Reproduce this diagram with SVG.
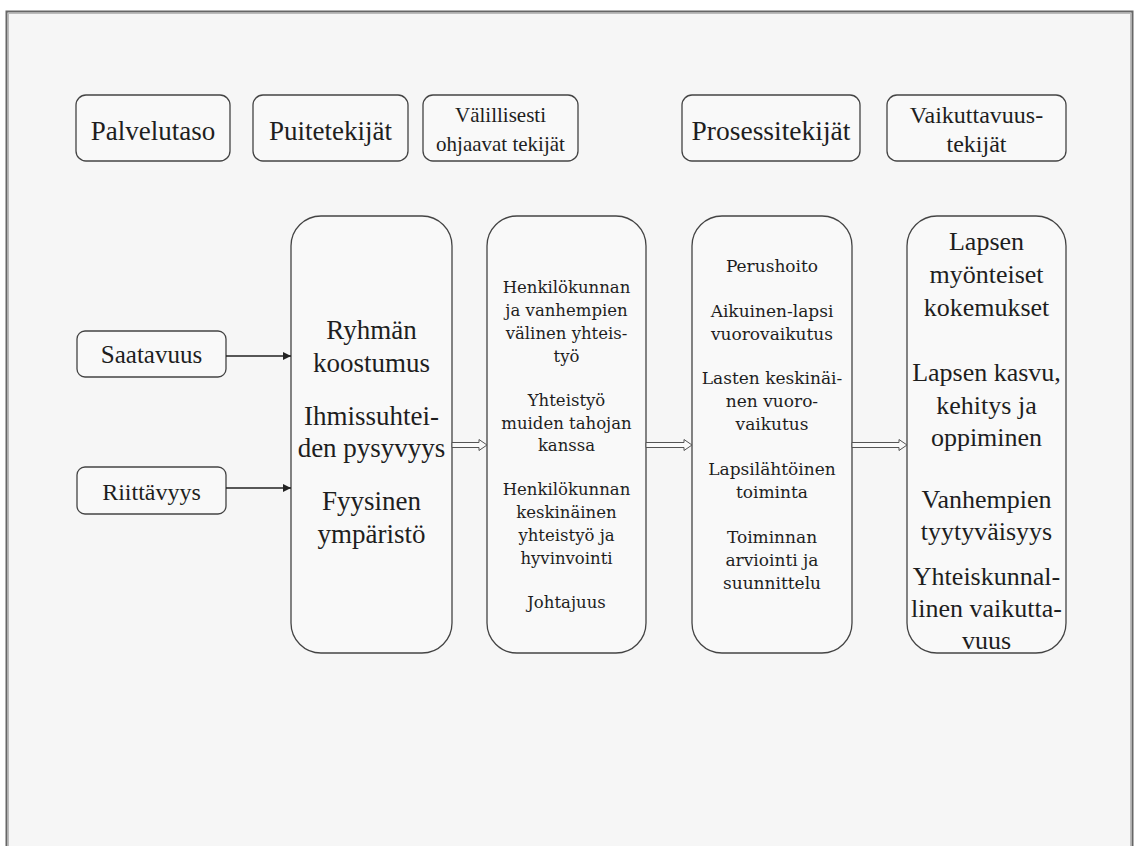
<svg xmlns="http://www.w3.org/2000/svg" width="1138" height="846" viewBox="0 0 1138 846">
<defs>
<style>
.box{fill:#f9f9f9;stroke:#444;stroke-width:1.3}
.conn{stroke:#222;stroke-width:1.3;fill:none}
.hollow{fill:#fafafa;stroke:#555;stroke-width:1}
.lbl{font-family:'Liberation Serif','Times New Roman',serif;fill:#1e1e1e;text-anchor:middle}
.sm{font-family:'DejaVu Serif',serif;fill:#1e1e1e;text-anchor:middle}
</style>
<marker id="ah" viewBox="0 0 10 10" refX="10" refY="5" markerWidth="8" markerHeight="8" markerUnits="userSpaceOnUse" orient="auto">
<path d="M0,0 L10,5 L0,10 z" fill="#222"/>
</marker>
</defs>
<rect x="0" y="0" width="1138" height="846" fill="#ffffff"/>
<rect x="6.5" y="11.5" width="1126" height="850" fill="#f6f6f6" stroke="#666" stroke-width="2"/>
<rect x="8.5" y="13.5" width="1122" height="850" fill="none" stroke="#bbb" stroke-width="1"/>

<g id="hdr-palvelutaso">
<rect class="box" x="76" y="95" width="154" height="66" rx="10"/>
<text class="lbl" x="153" y="140" font-size="27">Palvelutaso</text>
</g>
<g id="hdr-puitetekijat">
<rect class="box" x="253" y="95" width="155" height="66" rx="10"/>
<text class="lbl" x="330.5" y="140" font-size="27">Puitetekijät</text>
</g>
<g id="hdr-valillisesti">
<rect class="box" x="423" y="95" width="155" height="66" rx="10"/>
<text class="lbl" x="500.5" y="122" font-size="21">Välillisesti</text>
<text class="lbl" x="500.5" y="151" font-size="21">ohjaavat tekijät</text>
</g>
<g id="hdr-prosessitekijat">
<rect class="box" x="682" y="95" width="178" height="66" rx="10"/>
<text class="lbl" x="771" y="140" font-size="27.5">Prosessitekijät</text>
</g>
<g id="hdr-vaikuttavuustekijat">
<rect class="box" x="887" y="95" width="179" height="66" rx="10"/>
<text class="lbl" x="976.5" y="123" font-size="24">Vaikuttavuus-</text>
<text class="lbl" x="976.5" y="152" font-size="24">tekijät</text>
</g>

<g id="saatavuus">
<rect class="box" x="77" y="331" width="149" height="46" rx="8"/>
<text class="lbl" x="151.5" y="363" font-size="25">Saatavuus</text>
</g>
<g id="riittavyys">
<rect class="box" x="77" y="467" width="149" height="47" rx="8"/>
<text class="lbl" x="151.5" y="500" font-size="24">Riittävyys</text>
</g>

<g id="col-puitetekijat">
<rect class="box" x="291" y="216" width="161" height="437" rx="30"/>
<text class="lbl" x="371.5" y="339" font-size="27">Ryhmän</text>
<text class="lbl" x="371.5" y="372" font-size="27">koostumus</text>
<text class="lbl" x="371.5" y="425" font-size="27">Ihmissuhtei-</text>
<text class="lbl" x="371.5" y="457" font-size="27">den pysyvyys</text>
<text class="lbl" x="371.5" y="510" font-size="27">Fyysinen</text>
<text class="lbl" x="371.5" y="543" font-size="27">ympäristö</text>
</g>

<g id="col-valillisesti">
<rect class="box" x="487" y="216" width="159" height="437" rx="30"/>
<text class="sm" x="566.5" y="293" font-size="16.5">Henkilökunnan</text>
<text class="sm" x="566.5" y="316" font-size="16.5">ja vanhempien</text>
<text class="sm" x="566.5" y="339" font-size="16.5">välinen yhteis-</text>
<text class="sm" x="566.5" y="362" font-size="16.5">työ</text>
<text class="sm" x="566.5" y="406" font-size="16.5">Yhteistyö</text>
<text class="sm" x="566.5" y="429" font-size="16.5">muiden tahojan</text>
<text class="sm" x="566.5" y="451" font-size="16.5">kanssa</text>
<text class="sm" x="566.5" y="495" font-size="16.5">Henkilökunnan</text>
<text class="sm" x="566.5" y="518" font-size="16.5">keskinäinen</text>
<text class="sm" x="566.5" y="541" font-size="16.5">yhteistyö ja</text>
<text class="sm" x="566.5" y="564" font-size="16.5">hyvinvointi</text>
<text class="sm" x="566.5" y="608" font-size="16.5">Johtajuus</text>
</g>

<g id="col-prosessi">
<rect class="box" x="692" y="216" width="160" height="437" rx="30"/>
<text class="sm" x="772" y="272" font-size="17">Perushoito</text>
<text class="sm" x="772" y="317" font-size="17">Aikuinen-lapsi</text>
<text class="sm" x="772" y="340" font-size="17">vuorovaikutus</text>
<text class="sm" x="772" y="384" font-size="17">Lasten keskinäi-</text>
<text class="sm" x="772" y="407" font-size="17">nen vuoro-</text>
<text class="sm" x="772" y="430" font-size="17">vaikutus</text>
<text class="sm" x="772" y="475" font-size="17">Lapsilähtöinen</text>
<text class="sm" x="772" y="498" font-size="17">toiminta</text>
<text class="sm" x="772" y="543" font-size="17">Toiminnan</text>
<text class="sm" x="772" y="566" font-size="17">arviointi ja</text>
<text class="sm" x="772" y="589" font-size="17">suunnittelu</text>
</g>

<g id="col-vaikuttavuus">
<rect class="box" x="907" y="216" width="159" height="437" rx="30"/>
<text class="lbl" x="986.5" y="250" font-size="26">Lapsen</text>
<text class="lbl" x="986.5" y="283" font-size="26">myönteiset</text>
<text class="lbl" x="986.5" y="316" font-size="26">kokemukset</text>
<text class="lbl" x="986.5" y="381" font-size="26">Lapsen kasvu,</text>
<text class="lbl" x="986.5" y="414" font-size="26">kehitys ja</text>
<text class="lbl" x="986.5" y="446" font-size="26">oppiminen</text>
<text class="lbl" x="986.5" y="508" font-size="26">Vanhempien</text>
<text class="lbl" x="986.5" y="540" font-size="26">tyytyväisyys</text>
<text class="lbl" x="986.5" y="585" font-size="26">Yhteiskunnal-</text>
<text class="lbl" x="986.5" y="617" font-size="26">linen vaikutta-</text>
<text class="lbl" x="986.5" y="649" font-size="26">vuus</text>
</g>

<g id="connectors">
<line class="conn" x1="226" y1="356" x2="291" y2="356" marker-end="url(#ah)"/>
<line class="conn" x1="226" y1="488" x2="291" y2="488" marker-end="url(#ah)"/>
<path class="hollow" d="M452,442.5 H479 V439.5 L487,445 L479,450.5 V447.5 H452 Z"/>
<path class="hollow" d="M646,442.5 H684 V439.5 L692,445 L684,450.5 V447.5 H646 Z"/>
<path class="hollow" d="M852,442.5 H899 V439.5 L907,445 L899,450.5 V447.5 H852 Z"/>
</g>
</svg>
